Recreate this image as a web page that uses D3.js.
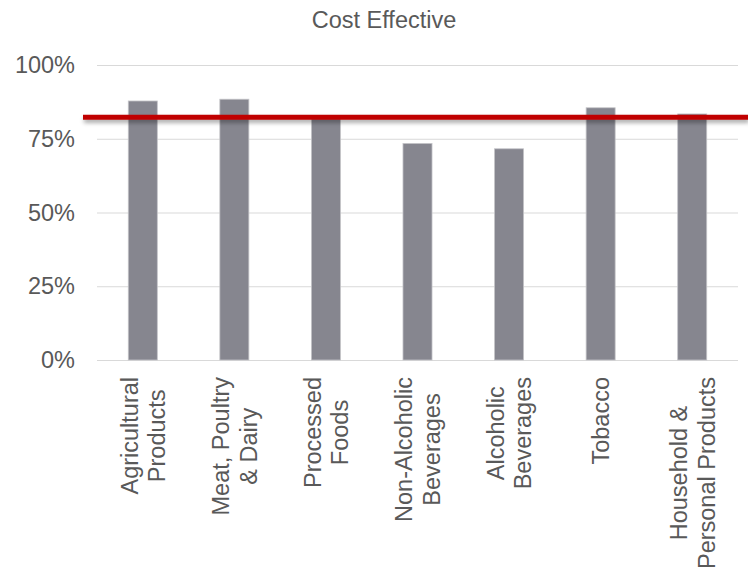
<!DOCTYPE html>
<html>
<head>
<meta charset="utf-8">
<script src="https://cdn.jsdelivr.net/npm/d3@7"></script>
<style>
  html, body { margin: 0; padding: 0; background: #fff; }
  svg { display: block; font-family: "Liberation Sans", Arial, sans-serif; }
</style>
</head>
<body>
<svg id="chart" width="748" height="570"></svg>
<script>
(function () {
// ---- data ----
const categories = [
  ["Agricultural", "Products"],
  ["Meat, Poultry", "& Dairy"],
  ["Processed", "Foods"],
  ["Non-Alcoholic", "Beverages"],
  ["Alcoholic", "Beverages"],
  ["Tobacco"],
  ["Household &", "Personal Products"]
];
const values = [0.878, 0.884, 0.82, 0.734, 0.716, 0.855, 0.834];
const threshold = 0.823;
const yTicks = [0, 0.25, 0.5, 0.75, 1.0];
const title = "Cost Effective";

// ---- layout ----
const svg = d3.select("#chart");
const mLeft = 97, mRight = 738, mTop = 65, mBottom = 360;
const textColor = "#595959";

const x = d3.scaleBand()
  .domain(d3.range(categories.length))
  .range([mLeft, mRight])
  .paddingInner(0.683)
  .paddingOuter(0.683 / 2);

const y = d3.scaleLinear().domain([0, 1]).range([mBottom, mTop]);

// shadow filter (user space so a thin line keeps a valid region)
const defs = svg.append("defs");
const f = defs.append("filter").attr("id", "shadow")
  .attr("filterUnits", "userSpaceOnUse")
  .attr("x", 0).attr("y", 0).attr("width", 748).attr("height", 570);
f.append("feDropShadow").attr("dx", 1).attr("dy", 3).attr("stdDeviation", 2.2)
  .attr("flood-color", "#000").attr("flood-opacity", 0.35);

// title
svg.append("text")
  .attr("x", 384).attr("y", 28)
  .attr("text-anchor", "middle")
  .attr("font-size", 23.5)
  .attr("fill", textColor)
  .text(title);

// gridlines
const yAxis = d3.axisLeft(y).tickValues(yTicks)
  .tickSize(-(mRight - mLeft)).tickPadding(22)
  .tickFormat(d3.format(".0%"));
const gy = svg.append("g").attr("transform", `translate(${mLeft},0)`).call(yAxis);
gy.select(".domain").remove();
gy.selectAll(".tick line").attr("stroke", "#d9d9d9").attr("stroke-width", 1.2);
gy.selectAll(".tick text")
  .attr("fill", textColor)
  .attr("font-size", 23.5)
  .attr("font-family", "Liberation Sans, Arial, sans-serif");

// bars
svg.append("g").selectAll("rect")
  .data(values)
  .join("rect")
  .attr("x", (d, i) => x(i))
  .attr("width", x.bandwidth())
  .attr("y", d => y(d))
  .attr("height", d => y(0) - y(d))
  .attr("fill", "#86868f")
  .attr("stroke", "#c4c4c8")
  .attr("stroke-width", 0.8);

// threshold line
svg.append("line")
  .attr("x1", 83).attr("x2", 748)
  .attr("y1", y(threshold)).attr("y2", y(threshold))
  .attr("stroke", "#c00000")
  .attr("stroke-width", 5)
  .attr("filter", "url(#shadow)");

// category labels
const fs = 23.5, lh = 27.4;
const labels = svg.append("g").attr("fill", textColor).attr("font-size", fs);
categories.forEach((lines, i) => {
  const cx = x(i) + x.bandwidth() / 2;
  const g = labels.append("g").attr("transform", `translate(${cx},377) rotate(-90)`);
  const texts = lines.map((ln, k) => g.append("text")
    .attr("y", 8.6 + (k - (lines.length - 1) / 2) * lh)
    .attr("text-anchor", "middle")
    .text(ln));
  const maxW = d3.max(texts, t => t.node().getComputedTextLength());
  texts.forEach(t => t.attr("x", -maxW / 2));
});
})();
</script>
</body>
</html>
